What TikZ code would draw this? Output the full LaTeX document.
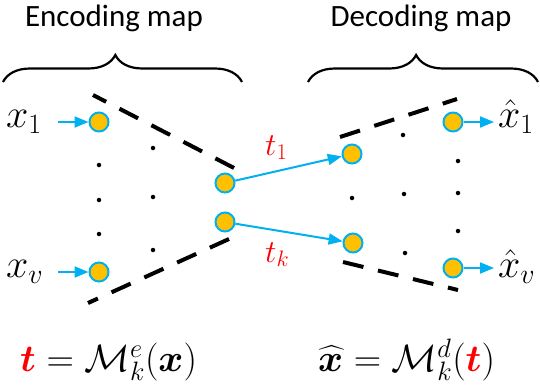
\RequirePackage{fix-cm}
\documentclass[tikz,border=0pt]{standalone}
\usepackage{amsmath,bm}
\usepackage{fontspec}
\setmainfont{Carlito}
\usetikzlibrary{arrows.meta,decorations.pathreplacing}
\definecolor{corange}{HTML}{FFC000}
\definecolor{cblue}{HTML}{00B0F0}
\definecolor{cred}{HTML}{FF0000}
\tikzset{
  unit/.style={circle, draw=cblue, fill=corange, line width=2pt, minimum size=19pt, inner sep=0pt},
  dotnode/.style={circle, fill=black, minimum size=4.5pt, inner sep=0pt},
  link/.style={draw=cblue, line width=2pt, -{Triangle[length=14pt,width=11pt]}},
  dashline/.style={line width=4pt, dash pattern=on 21pt off 15pt},
  bracestyle/.style={decorate, decoration={brace, amplitude=27pt, aspect=0.47}, line width=2.2pt},
  title/.style={font=\fontsize{31}{36}\selectfont},
  lab/.style={font=\fontsize{40}{44}\selectfont, inner sep=0pt},
  tlab/.style={font=\fontsize{32}{36}\selectfont, inner sep=0pt, text=cred},
  formula/.style={font=\fontsize{38}{42}\selectfont, inner sep=0pt},
}
\begin{document}
\begin{tikzpicture}[x=1pt,y=-1pt]
\useasboundingbox (0,0) rectangle (540,386);
% titles
\node[title] (enc) at (114,18) {Encoding map};
\node[title] (dec) at (421,18) {Decoding map};
% braces
\coordinate (b1a) at (3,82); \coordinate (b1b) at (242,82);
\coordinate (b2a) at (308,82); \coordinate (b2b) at (538,82);
\draw[bracestyle] (b1a) -- (b1b);
\draw[bracestyle] (b2a) -- (b2b);
% dashed lines
\coordinate (d1a) at (234,168); \coordinate (d1b) at (93,95);
\coordinate (d2a) at (229,239); \coordinate (d2b) at (88,303);
\coordinate (d3a) at (340,137); \coordinate (d3b) at (457,99);
\coordinate (d4a) at (343,262); \coordinate (d4b) at (458,290);
\draw[dashline] (d1a) -- (d1b);
\draw[dashline] (d2a) -- (d2b);
\draw[dashline] (d3a) -- (d3b);
\draw[dashline] (d4a) -- (d4b);
% dots
\foreach \n/\x/\y in {a1/99/165, a2/99/200, a3/99/234, b1/153/148, b2/153/197, b3/153/250,
  c1/352/198, d1/403/135, d2/404/194, d3/405/253, e1/458/161, e2/458/193, e3/458/231}
  \node[dotnode] (dot\n) at (\x,\y) {};
% units
\node[unit] (in1) at (99,122) {};
\node[unit] (inv) at (99,272) {};
\node[unit] (m1) at (225,183) {};
\node[unit] (mk) at (225,222) {};
\node[unit] (r1) at (352,154) {};
\node[unit] (rk) at (353,243) {};
\node[unit] (o1) at (453,122) {};
\node[unit] (ov) at (453,268) {};
% labels
\node[lab, anchor=base west] (x1) at (6,127) {$x_1$};
\node[lab, anchor=base west] (xv) at (6,277) {$x_v$};
\node[lab, anchor=base west] (y1) at (498,127) {$\hat{x}_1$};
\node[lab, anchor=base west] (yv) at (498,277) {$\hat{x}_v$};
\node[tlab, anchor=base west] (t1) at (265,155) {$t_1$};
\node[tlab, anchor=base west] (tk) at (265,262) {$t_k$};
% arrows
\coordinate (s1) at (58,122); \coordinate (sv) at (58,272);
\coordinate (e1) at (494,122); \coordinate (ev) at (494,268);
\draw[link] (s1) -- (in1);
\draw[link] (sv) -- (inv);
\draw[link] (o1) -- (e1);
\draw[link] (ov) -- (ev);
\draw[link] (m1) -- (r1);
\draw[link] (mk) -- (rk);
% formulas
\node[formula, anchor=base west] (f1) at (20,371) {$\textcolor{cred}{\bm{t}} = \mathcal{M}_k^e(\bm{x})$};
\node[formula, anchor=base west] (f2) at (318,371) {$\widehat{\bm{x}} = \mathcal{M}_k^d(\textcolor{cred}{\bm{t}})$};
\end{tikzpicture}
\end{document}
